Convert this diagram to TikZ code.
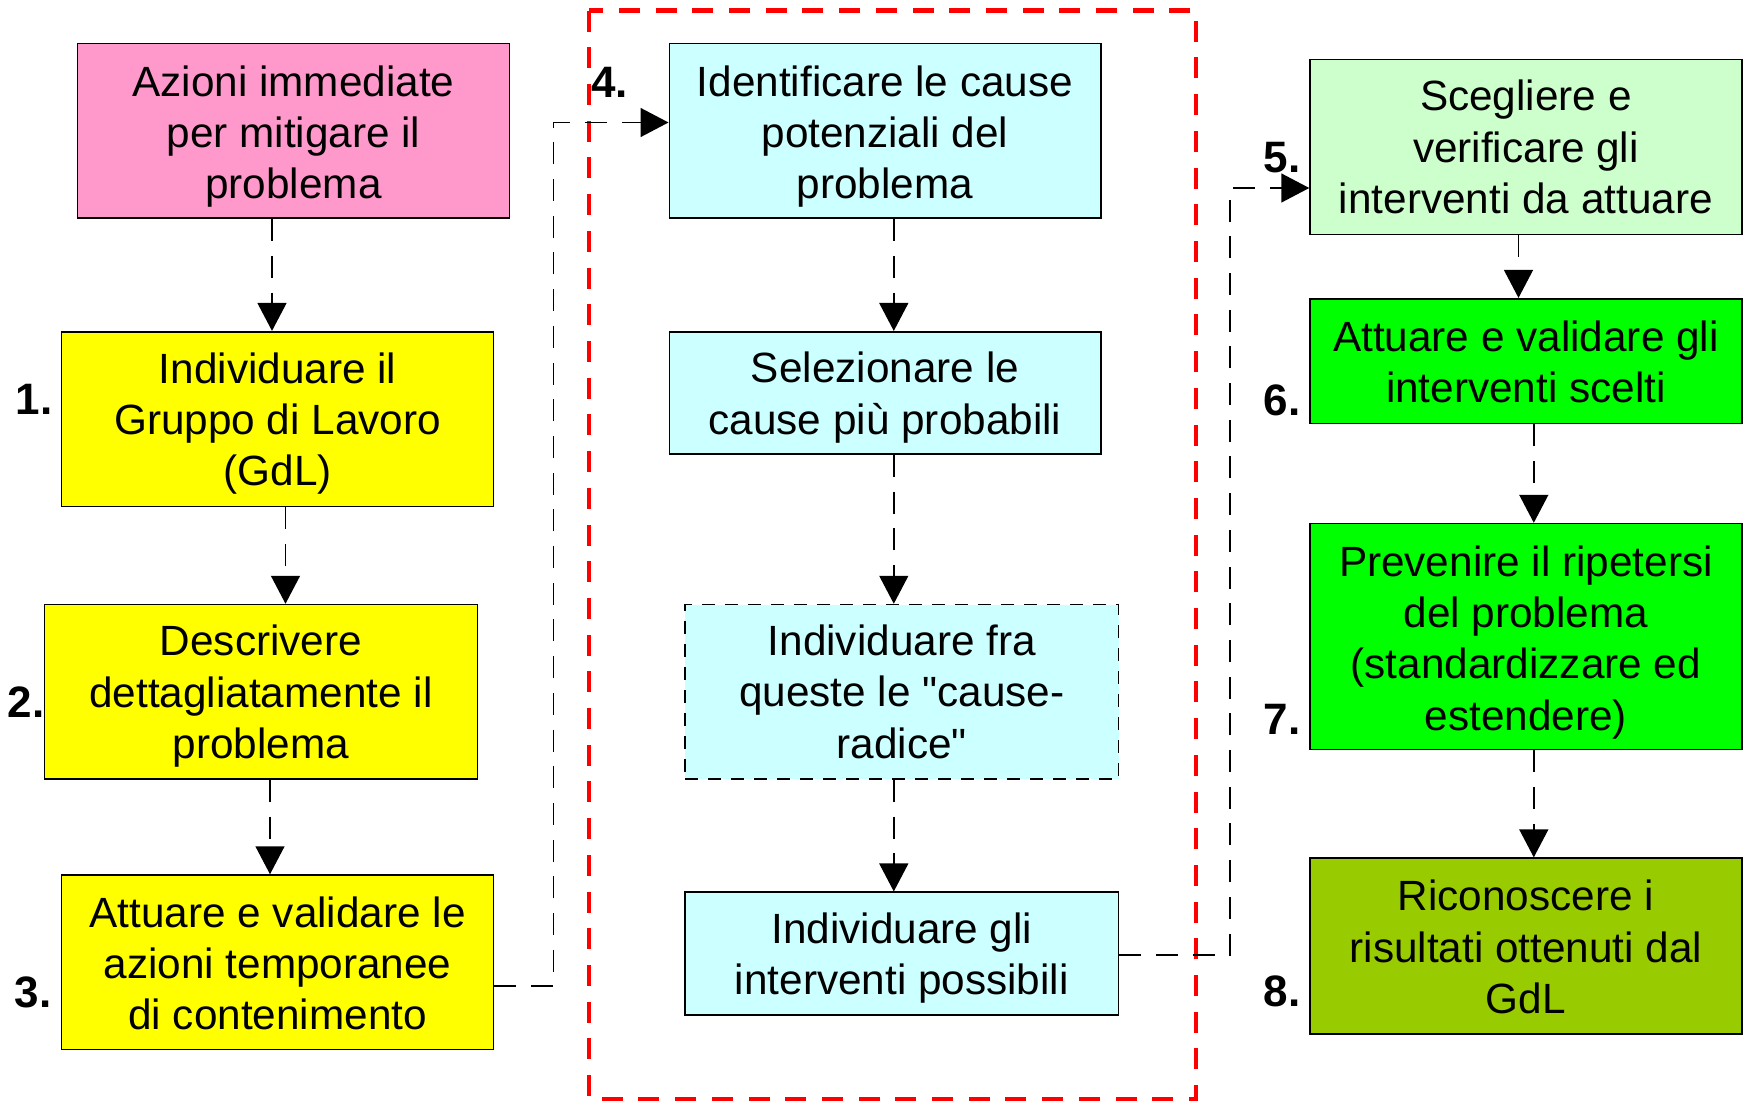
\documentclass[tikz,border=0pt]{standalone}
\usepackage{fontspec}
\setmainfont{Liberation Sans}
\newfontfamily\plainq{Liberation Sans}
\usetikzlibrary{arrows.meta,calc}
\definecolor{cpink}{HTML}{FF99CC}
\definecolor{cyellow}{HTML}{FFFF00}
\definecolor{ccyan}{HTML}{CCFFFF}
\definecolor{clgreen}{HTML}{CCFFCC}
\definecolor{cgreen}{HTML}{00FF00}
\definecolor{colive}{HTML}{99CC00}
\definecolor{cred}{HTML}{FF0000}
\tikzset{
  box/.style={draw=black, line width=1.6pt, rectangle, inner sep=0pt},
  txt/.style={align=center, inner sep=0pt, text=black,
    font=\fontsize{42.3}{51.3}\selectfont},
  conn/.style={draw=black, line width=1.5pt, dash pattern=on 22pt off 14.7pt,
    -{Triangle[length=28pt,width=29pt]}},
  num/.style={font=\fontsize{44}{50}\selectfont\bfseries, inner sep=0pt, text=black},
  redbox/.style={draw=cred, line width=4.7pt, dash pattern=on 21pt off 15.7pt}
}
\begin{document}
\begin{tikzpicture}[x=1pt,y=-1pt]
\useasboundingbox[fill=white] (0,0) rectangle (1749,1102);

% red dashed frame
\draw[redbox] (589,10.7) rectangle (1196,1099);

% left column
\node[box, fill=cpink, minimum width=432pt, minimum height=174.6pt,
  label={[txt,yshift=-5.5pt]center:Azioni immediate\\per mitigare il\\problema}] (pink) at (293.5,131) {};
\node[box, fill=cyellow, minimum width=432pt, minimum height=174.6pt,
  label={[txt,yshift=-4.5pt]center:Individuare il\\Gruppo di Lavoro\\(GdL)}] (y1) at (277.6,419) {};
\node[box, fill=cyellow, minimum width=433pt, minimum height=174.5pt,
  label={[txt,yshift=-4.5pt]center:Descrivere\\dettagliatamente il\\problema}] (y2) at (261,691.8) {};
\node[box, fill=cyellow, minimum width=432pt, minimum height=174.5pt,
  label={[txt,yshift=-1pt]center:Attuare e validare le\\azioni temporanee\\di contenimento}] (y3) at (277.6,962.3) {};

% middle column
\node[box, fill=ccyan, minimum width=431.4pt, minimum height=174.6pt,
  label={[txt,yshift=-5.5pt]center:Identificare le cause\\potenziali del\\problema}] (c4) at (885,131) {};
\node[box, fill=ccyan, minimum width=431.4pt, minimum height=122.5pt,
  label={[txt,yshift=-4.5pt]center:Selezionare le\\cause più probabili}] (sel) at (885,393) {};
\node[box, fill=ccyan, minimum width=433.5pt, minimum height=174.5pt, dash pattern=on 13pt off 10pt,
  label={[txt]center:Individuare fra\\queste le {\plainq"}cause-\\radice{\plainq"}}] (rad) at (901.8,691.8) {};
\node[box, fill=ccyan, minimum width=433.5pt, minimum height=122.7pt,
  label={[txt,yshift=-4.5pt]center:Individuare gli\\interventi possibili}] (intv) at (901.8,953.6) {};

% right column
\node[box, fill=clgreen, minimum width=431.7pt, minimum height=174.7pt,
  label={[txt]center:Scegliere e\\verificare gli\\interventi da attuare}] (g5) at (1525.9,147) {};
\node[box, fill=cgreen, minimum width=431.7pt, minimum height=124.6pt,
  label={[txt,yshift=-1pt]center:Attuare e validare gli\\interventi scelti}] (g6) at (1525.9,361) {};
\node[box, fill=cgreen, minimum width=431.7pt, minimum height=226pt,
  label={[txt,yshift=-5.5pt]center:Prevenire il ripetersi\\del problema\\(standardizzare ed\\estendere)}] (g7) at (1525.9,636.6) {};
\node[box, fill=colive, minimum width=431.7pt, minimum height=175.7pt,
  label={[txt,yshift=-1pt]center:Riconoscere i\\risultati ottenuti dal\\GdL}] (ol) at (1525.9,946) {};

% numbers
\node[num] (n1) at (34,399) {1.};
\node[num] (n2) at (26,702) {2.};
\node[num] (n3) at (33,992) {3.};
\node[num] (n4) at (609.5,82) {4.};
\node[num] (n5) at (1282,158) {5.};
\node[num] (n6) at (1282,400) {6.};
\node[num] (n7) at (1282,719) {7.};
\node[num] (n8) at (1282,991) {8.};

% helper coordinates
\coordinate (xa) at (272,0);
\coordinate (xb) at (285.5,0);
\coordinate (xc) at (270,0);
\coordinate (xm) at (893.8,0);
\coordinate (xg1) at (1518.5,0);
\coordinate (xg2) at (1533.8,0);
\coordinate (ya) at (0,986);
\coordinate (yb) at (0,122.5);
\coordinate (yc) at (0,955);
\coordinate (yd) at (0,188);
\coordinate (xl) at (553.5,0);
\coordinate (xr) at (1230,0);

% connectors
\draw[conn] (pink.south -| xa) -- (y1.north -| xa);
\draw[conn] (y1.south -| xb) -- (y2.north -| xb);
\draw[conn] (y2.south -| xc) -- (y3.north -| xc);
\draw[conn] (y3.east |- ya) -- (xl |- ya) -- (xl |- yb) -- (c4.west |- yb);
\draw[conn] (c4.south -| xm) -- (sel.north -| xm);
\draw[conn] (sel.south -| xm) -- (rad.north -| xm);
\draw[conn] (rad.south -| xm) -- (intv.north -| xm);
\draw[conn] (intv.east |- yc) -- (xr |- yc) -- (xr |- yd) -- (g5.west |- yd);
\draw[conn] (g5.south -| xg1) -- (g6.north -| xg1);
\draw[conn] (g6.south -| xg2) -- (g7.north -| xg2);
\draw[conn] (g7.south -| xg2) -- (ol.north -| xg2);
\end{tikzpicture}
\end{document}
